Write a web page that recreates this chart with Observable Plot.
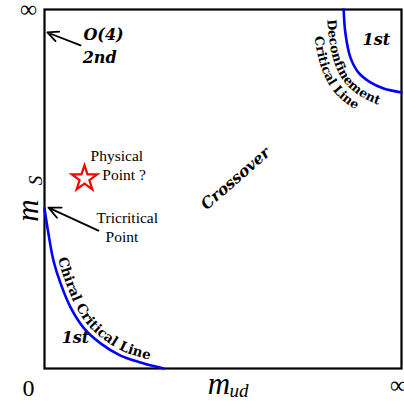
<!DOCTYPE html>
<html><head><meta charset="utf-8">
<script src="https://cdn.jsdelivr.net/npm/d3@7"></script>
<script src="https://cdn.jsdelivr.net/npm/@observablehq/plot@0.6"></script>
<style>body{margin:0;background:#fff} svg{display:block}</style>
</head><body><div id="chart"></div>
<script>
// Chiral critical line (m_ud, m_s) in unit square coordinates
const chiralX = [0, 0.011, 0.025, 0.045, 0.073, 0.109, 0.157, 0.213, 0.269, 0.333];
const chiralY = [0.446, 0.376, 0.301, 0.237, 0.170, 0.114, 0.070, 0.036, 0.017, 0];
// Deconfinement critical line
const deconfX = [0.838, 0.843, 0.857, 0.879, 0.913, 0.950, 1.0];
const deconfY = [1.0, 0.933, 0.866, 0.825, 0.797, 0.780, 0.769];
// Physical point
const physX = [0.112];
const physY = [0.529];
// Annotation arrows (tail -> head)
const arrowX1 = [0.101, 0.151];
const arrowY1 = [0.900, 0.384];
const arrowX2 = [0.008, 0.011];
const arrowY2 = [0.936, 0.448];
// Bold italic labels
const boldLabels = ["O(4)", "2nd", "1st", "1st"];
const boldX = [0.109, 0.107, 0.048, 0.891];
const boldY = [0.914, 0.850, 0.072, 0.900];
// Plain labels
const plainLabels = ["Physical", "Point ?", "Tricritical", "Point"];
const plainX = [0.129, 0.162, 0.146, 0.171];
const plainY = [0.579, 0.524, 0.404, 0.351];
// Axis end labels
const endLabels = ["∞", "0", "∞"];
const endX = [-0.045, -0.045, 0.992];
const endY = [1.0, -0.056, -0.047];
// Labels that follow the critical lines
const curveTexts = ["Chiral Critical Line", "Deconfinement", "Critical Line"];

function pickFont(cands) {
  const c = document.createElement("canvas").getContext("2d");
  const s = "Physical Point ?mwil0";
  for (const f of cands) {
    c.font = "20px monospace"; const w0 = c.measureText(s).width;
    c.font = `20px "${f}", monospace`; const w1 = c.measureText(s).width;
    if (Math.abs(w1 - w0) > 0.5) return f;
  }
  return "serif";
}
const serif = pickFont(["Liberation Serif", "Tinos", "Times New Roman", "Nimbus Roman", "Nimbus Roman No9 L", "FreeSerif", "Noto Serif", "DejaVu Serif"]);
const bserif = "DejaVu Serif";
const curveFontSize = 12.5;
const chiralFontSize = 13.5;

const idx = a => d3.range(a.length);
const base = {
  width: 404, height: 408,
  marginLeft: 44, marginRight: 3, marginTop: 9, marginBottom: 40,
  x: {domain: [0, 1], axis: null},
  y: {domain: [0, 1], axis: null},
  style: {background: "#fff", overflow: "visible"}
};
const probe = Plot.plot({...base, marks: [Plot.frame()]});
const xs = probe.scale("x"), ys = probe.scale("y");

const ctx = document.createElement("canvas").getContext("2d");
function charsAlong(X, Y, text, off, start, fontSize) {
  const pts = X.map((v, i) => [xs.apply(v), ys.apply(Y[i])]);
  const tmp = d3.select("body").append("svg").attr("width", 1).attr("height", 1);
  const el = tmp.append("path").attr("d", d3.line().curve(d3.curveCatmullRom)(pts)).node();
  const L = el.getTotalLength(), n = 400;
  const s = d3.range(n + 1).map(k => { const p = el.getPointAtLength(L * k / n); return [p.x, p.y]; });
  tmp.remove();
  const o = s.map((p, k) => {
    const a = s[Math.max(0, k - 1)], b = s[Math.min(n, k + 1)];
    let tx = b[0] - a[0], ty = b[1] - a[1]; const l = Math.hypot(tx, ty) || 1; tx /= l; ty /= l;
    return [p[0] + ty * off, p[1] - tx * off];
  });
  const cum = [0];
  for (let k = 1; k < o.length; k++) cum.push(cum[k - 1] + Math.hypot(o[k][0] - o[k - 1][0], o[k][1] - o[k - 1][1]));
  const tp = [xs.apply(start[0]), ys.apply(start[1])];
  let bk = 0, bd = Infinity;
  o.forEach((p, k) => { const d = Math.hypot(p[0] - tp[0], p[1] - tp[1]); if (d < bd) { bd = d; bk = k; } });
  let pos = cum[bk];
  ctx.font = `bold ${fontSize}px "${bserif}"`;
  const out = [];
  for (const ch of text) {
    const w = ctx.measureText(ch).width;
    const mid = pos + w / 2; pos += w;
    let k = d3.bisectLeft(cum, mid); k = Math.min(Math.max(k, 1), o.length - 1);
    const t = (mid - cum[k - 1]) / ((cum[k] - cum[k - 1]) || 1);
    const px = o[k - 1][0] + t * (o[k][0] - o[k - 1][0]);
    const py = o[k - 1][1] + t * (o[k][1] - o[k - 1][1]);
    const ang = Math.atan2(o[k][1] - o[k - 1][1], o[k][0] - o[k - 1][0]) * 180 / Math.PI;
    out.push({x: xs.invert(px), y: ys.invert(py), ch, rotate: ang, size: fontSize});
  }
  return out;
}
const curveChars = [
  ...charsAlong(chiralX, chiralY, curveTexts[0], 5, [0.058, 0.312], chiralFontSize),
  ...charsAlong(deconfX, deconfY, curveTexts[1], -17, [0.793, 0.972], curveFontSize),
  ...charsAlong(deconfX, deconfY, curveTexts[2], -31, [0.745, 0.922], curveFontSize)
];

const plot = Plot.plot({
  ...base,
  marks: [
    Plot.frame({stroke: "#000", strokeWidth: 2.2}),
    Plot.line(idx(chiralX), {x: i => chiralX[i], y: i => chiralY[i], curve: "catmull-rom", stroke: "#0000ff", strokeWidth: 2.6}),
    Plot.line(idx(deconfX), {x: i => deconfX[i], y: i => deconfY[i], curve: "catmull-rom", stroke: "#0000ff", strokeWidth: 2.6}),
    Plot.arrow(idx(arrowX1), {x1: i => arrowX1[i], y1: i => arrowY1[i], x2: i => arrowX2[i], y2: i => arrowY2[i], stroke: "#000", strokeWidth: 1.8, headLength: 11, headAngle: 50}),
    Plot.dot(idx(physX), {x: i => physX[i], y: i => physY[i], symbol: "star", r: 8, stroke: "#ff0000", fill: "#fff", strokeWidth: 2.2}),
    Plot.text(idx(boldLabels), {x: i => boldX[i], y: i => boldY[i], text: i => boldLabels[i], textAnchor: "start", lineAnchor: "bottom", fontFamily: bserif, fontWeight: "bold", fontStyle: "italic", fontSize: 16, fill: "#000"}),
    Plot.text(idx(plainLabels), {x: i => plainX[i], y: i => plainY[i], text: i => plainLabels[i], textAnchor: "start", lineAnchor: "bottom", fontFamily: serif, fontSize: 15.5, fill: "#000"}),
    Plot.text(["Crossover"], {x: 0.535, y: 0.529, text: d => d, rotate: -41, textAnchor: "middle", lineAnchor: "middle", fontFamily: bserif, fontWeight: "bold", fontStyle: "italic", fontSize: 15.5, fill: "#000"}),
    Plot.text(idx(endLabels), {x: i => endX[i], y: i => endY[i], text: i => endLabels[i], textAnchor: "middle", lineAnchor: "middle", fontFamily: serif, fontSize: 24, fill: "#000"}),
    Plot.text(["m"], {x: -0.017, y: 0.44, text: d => d, rotate: -90, textAnchor: "middle", lineAnchor: "bottom", fontFamily: serif, fontSize: 31, fontStyle: "italic", fill: "#000"}),
    Plot.text(["S"], {x: -0.006, y: 0.524, text: d => d, rotate: -90, textAnchor: "middle", lineAnchor: "bottom", fontFamily: serif, fontSize: 19, fontStyle: "italic", fill: "#000"}),
    Plot.text(["m"], {x: 0.457, y: -0.072, text: d => d, textAnchor: "start", lineAnchor: "bottom", fontFamily: serif, fontSize: 31, fontStyle: "italic", fill: "#000"}),
    Plot.text(["ud"], {x: 0.518, y: -0.078, text: d => d, textAnchor: "start", lineAnchor: "bottom", fontFamily: serif, fontSize: 19, fontStyle: "italic", fill: "#000"}),
    Plot.text(curveChars, {x: "x", y: "y", text: "ch", rotate: "rotate", fontSize: "size", textAnchor: "middle", lineAnchor: "bottom", fontFamily: bserif, fontWeight: "bold", fill: "#000"})
  ]
});
document.getElementById("chart").append(plot);
</script></body></html>
